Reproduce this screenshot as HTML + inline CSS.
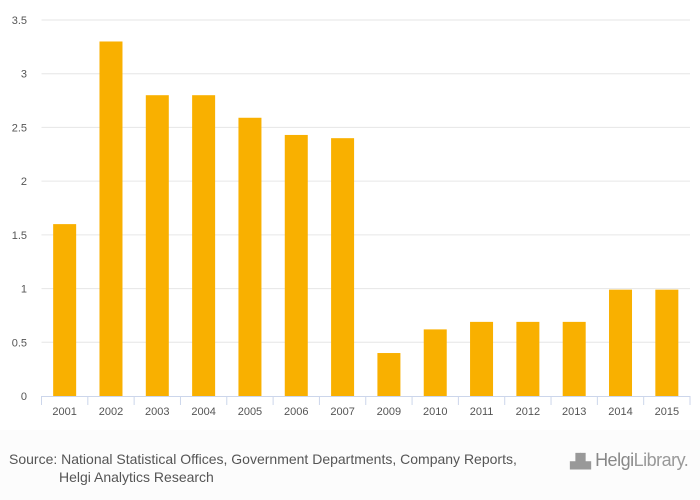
<!DOCTYPE html>
<html><head><meta charset="utf-8"><style>
body{margin:0;width:700px;height:500px;background:#fff;font-family:"Liberation Sans",sans-serif;overflow:hidden}
#footer{position:absolute;left:0;top:430px;width:700px;height:70px;background:#fcfcfc}
</style></head><body>
<svg id="chart" width="700" height="430" style="position:absolute;left:0;top:0"></svg>
<div id="footer">
<div style="position:absolute;left:9px;top:20px;font-size:14px;color:#555;line-height:18px">Source: National Statistical Offices, Government Departments, Company Reports,<br><span style="padding-left:50px">Helgi Analytics Research</span></div>
<div style="position:absolute;left:570px;top:20px;font-size:18px;color:#999;letter-spacing:-0.5px"><span style="font-size:14px">▟▙</span> <b style="font-weight:normal;color:#888">Helgi</b>Library.</div>
</div>
<script>
const categories=["2001","2002","2003","2004","2005","2006","2007","2009","2010","2011","2012","2013","2014","2015"];
const values=[1.6,3.3,2.8,2.8,2.59,2.43,2.4,0.4,0.62,0.69,0.69,0.69,0.99,0.99];
const yTicks=[0,0.5,1,1.5,2,2.5,3,3.5];
const tickLabels=["0","0.5","1","1.5","2","2.5","3","3.5"];
const svg=document.getElementById('chart');const NS="http://www.w3.org/2000/svg";
const x0=41.5,x1=690,y0=396,y1=20,yMax=3.5;
const bw=(x1-x0)/categories.length;
const y=v=>y0-(v/yMax)*(y0-y1);
const xc=i=>x0+bw*(i+0.5);
function mk(t,a){const e=document.createElementNS(NS,t);for(const k in a)e.setAttribute(k,a[k]);svg.appendChild(e);return e;}
yTicks.forEach((v,i)=>{
 if(v>0){const g=mk('line',{x1:x0,x2:x1,y1:y(v),y2:y(v),stroke:'#e6e6e6','stroke-width':1});
 
 }
 const t=mk('text',{x:27,y:y(v)+4,'text-anchor':'end','font-size':11,fill:'#555'});t.textContent=tickLabels[i];
 
 
});
values.forEach((v,i)=>{
 const r=mk('rect',{x:xc(i)-11.5,y:y(v),width:23,height:y0-y(v),fill:'#f9b000'});
 
 
 const t=mk('text',{x:xc(i),y:415,'text-anchor':'middle','font-size':11,fill:'#555'});t.textContent=categories[i];
 
 
});
for(let i=0;i<=categories.length;i++){const l=mk('line',{x1:x0+bw*i,x2:x0+bw*i,y1:y0,y2:y0+9,stroke:'#ccd6eb'});
 
 }
const ax=mk('line',{x1:x0,x2:x1,y1:y0+0.5,y2:y0+0.5,stroke:'#ccd6eb'});


</script>
</body></html>
